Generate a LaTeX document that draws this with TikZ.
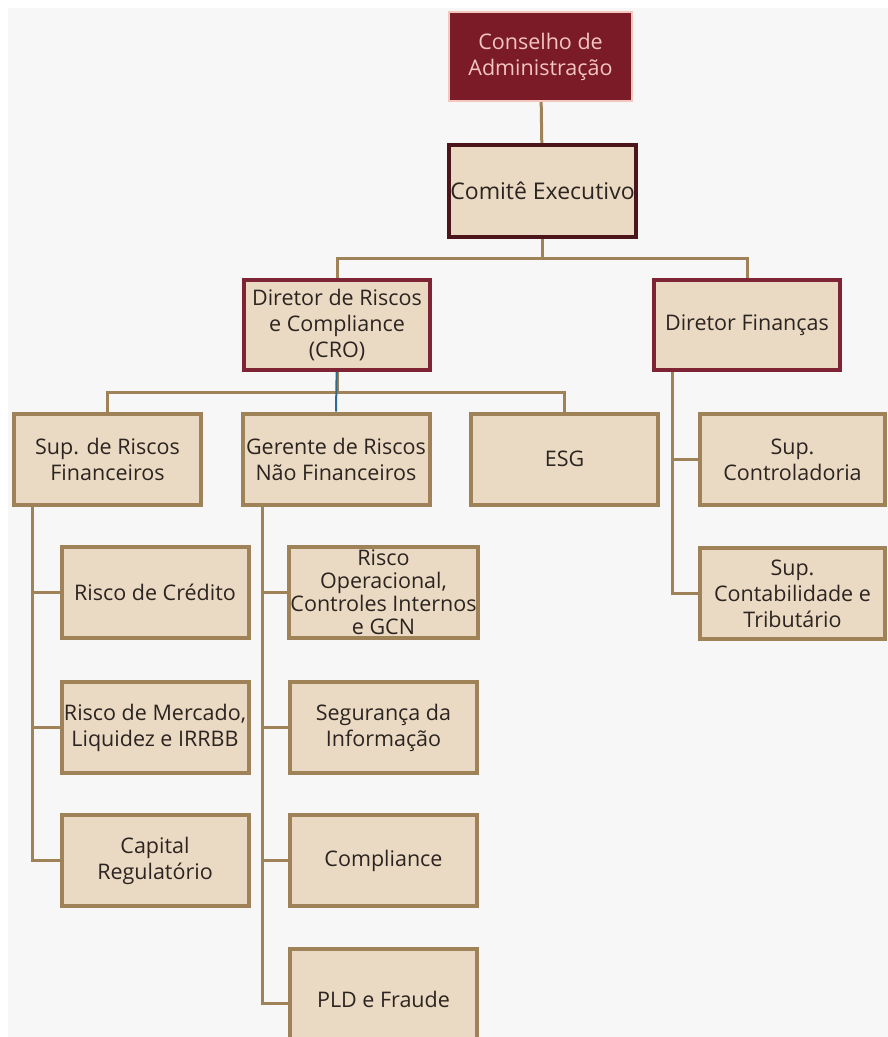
\documentclass[tikz,border=0pt]{standalone}
\usepackage{fontspec}
\setmainfont{Open Sans}
\usetikzlibrary{backgrounds}

\definecolor{panel}{HTML}{F7F7F7}
\definecolor{beige}{HTML}{EBDAC3}
\definecolor{tanline}{HTML}{A08258}
\definecolor{wine}{HTML}{7B1B28}
\definecolor{winelight}{HTML}{F3C6BE}
\definecolor{maroon}{HTML}{4B1519}
\definecolor{redline}{HTML}{7E2434}
\definecolor{ink}{HTML}{2B2420}
\definecolor{blueline}{HTML}{2E6B8E}

\begin{document}
\begin{tikzpicture}
            [x=1pt,y=-1pt,
             box/.style={rectangle,draw=tanline,fill=beige,line width=4pt,
                 minimum width=187pt,minimum height=91pt,inner sep=1pt,
                 align=center,text=ink,font=\fontsize{21.5}{26}\selectfont},
             head/.style={box,draw=redline,line width=4pt,minimum width=186pt,minimum height=90pt},
             link/.style={draw=tanline,line width=3pt}]

            \useasboundingbox (0,0) rectangle (888,1037);

            \node (cons) [box,fill=wine,draw=winelight,line width=2pt,text=winelight,
                minimum width=183pt,minimum height=89pt] at (540.5,56.5) {Conselho de\\Administração};
            \node (comite) [box,draw=maroon,line width=4pt,minimum width=187pt,minimum height=92pt,
                font=\fontsize{23}{26}\selectfont] at (542.5,191) {Comitê Executivo};

            \node (cro) [head] at (337,325) {Diretor de Riscos\\e Compliance\\(CRO)};
            \node (dfin) [head] at (747,325) {Diretor Finanças};

            \node (supfin) [box] at (107.5,459) {Sup. de Riscos\\Financeiros};
            \node (gnf) [box] at (336,459) {Gerente de Riscos\\Não Financeiros};
            \node (esg) [box] at (564.5,459) {ESG};

            \node (sctrl) [box,minimum width=185pt] at (792.5,459.5) {Sup.\\Controladoria};
            \node (scont) [box,minimum width=185pt] at (792.5,593.5) {Sup.\\Contabilidade e\\Tributário};

            \node (rcred) [box] at (155,592.5) {Risco de Crédito};
            \node (rmerc) [box] at (155,727.5) {Risco de Mercado,\\Liquidez e IRRBB};
            \node (capreg) [box] at (155,860.5) {Capital\\Regulatório};

            \node (rop) [box,font=\fontsize{21.5}{23}\selectfont] at (383.5,592.5) {Risco\\Operacional,\\Controles Internos\\e GCN};
            \node (seginf) [box] at (383.5,727.5) {Segurança da\\Informação};
            \node (compl) [box] at (383.5,860.5) {Compliance};
            \node (pld) [box,minimum height=100pt] at (383.5,999) {PLD e Fraude};

            \begin{pgfonlayer}{background}
                \fill[white] (0,0) rectangle (888,1037);
                \fill[panel] (8,8) rectangle (888,1037);

                \path[link] (cons) -- (comite);
                \path[link] (comite.south) -- ++(0,19) -| (cro.north);
                \path[link] (comite.south) -- ++(0,19) -| (dfin.north);

                \path[link] (cro.south) -- ++(0,20) -| (supfin.north);
                \path[link] (cro.south) -- ++(0,20) -| (esg.north);
                \path[link] (cro.south) -- ++(0,20);
                \draw[blueline,line width=2pt] ([yshift=23pt]cro.south) -- (gnf.north);

                \path[link] ([xshift=20pt]supfin.south west) |- (rcred.west);
                \path[link] ([xshift=20pt]supfin.south west) |- (rmerc.west);
                \path[link] ([xshift=20pt]supfin.south west) |- (capreg.west);

                \path[link] ([xshift=22pt]gnf.south west) |- (rop.west);
                \path[link] ([xshift=22pt]gnf.south west) |- (seginf.west);
                \path[link] ([xshift=22pt]gnf.south west) |- (compl.west);
                \path[link] ([xshift=22pt]gnf.south west) |- ([yshift=-4.5pt]pld.west);

                \path[link] ([xshift=20pt]dfin.south west) |- (sctrl.west);
                \path[link] ([xshift=20pt]dfin.south west) |- (scont.west);
            \end{pgfonlayer}
        \end{tikzpicture}
\end{document}
